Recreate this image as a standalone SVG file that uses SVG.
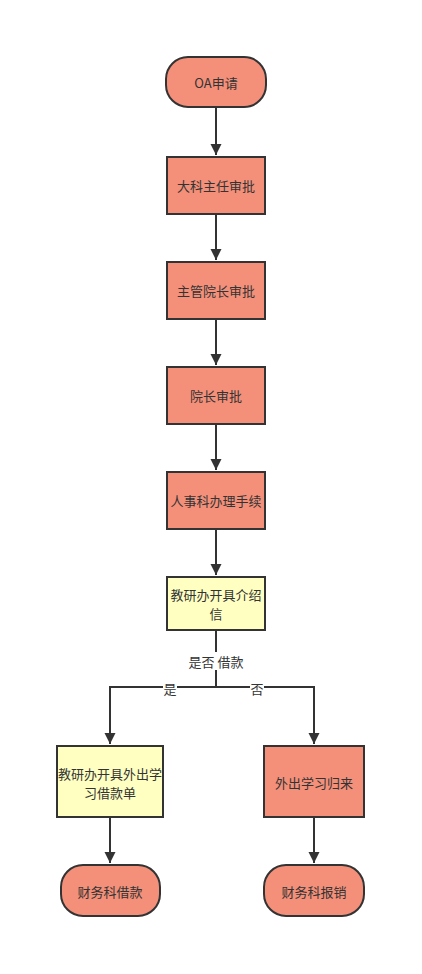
<svg xmlns="http://www.w3.org/2000/svg" width="422" height="974" viewBox="0 0 422 974">
<style>
.red{fill:#F4907A;stroke:#333;stroke-width:2}
.yel{fill:#FFFFC2;stroke:#333;stroke-width:2}
.t{font-family:"Noto Sans CJK SC","Liberation Sans",sans-serif;font-size:13px;fill:#333;text-anchor:middle;dominant-baseline:central}
.c{fill:none;stroke:#333;stroke-width:2}
.lb{fill:#fff}
</style>
<defs>
<marker id="a" viewBox="0 0 10 10" refX="10" refY="5" markerWidth="5.5" markerHeight="6" markerUnits="strokeWidth" orient="auto">
<path d="M0,0 L10,5 L0,10 z" fill="#333"/>
</marker>
</defs>
<rect width="422" height="974" fill="#fff"/>
<g id="connectors">
<path class="c" d="M216,107 V155" marker-end="url(#a)"/>
<path class="c" d="M216,214 V260" marker-end="url(#a)"/>
<path class="c" d="M216,319 V365" marker-end="url(#a)"/>
<path class="c" d="M216,424 V470" marker-end="url(#a)"/>
<path class="c" d="M216,529 V575" marker-end="url(#a)"/>
<path class="c" d="M216,630 V687 H110 V744" marker-end="url(#a)"/>
<path class="c" d="M216,687 H314 V744" marker-end="url(#a)"/>
<path class="c" d="M110,817 V863" marker-end="url(#a)"/>
<path class="c" d="M314,817 V863" marker-end="url(#a)"/>
<rect class="lb" x="188" y="652" width="56" height="18"/>
<text class="t" x="216" y="661">是否 借款</text>
<rect class="lb" x="163" y="680" width="14" height="14"/>
<text class="t" x="170" y="688">是</text>
<rect class="lb" x="250" y="680" width="14" height="14"/>
<text class="t" x="257" y="688">否</text>
</g>
<g id="n1"><rect class="red" x="166" y="57" width="100" height="50" rx="22"/><text class="t" x="216" y="82">OA申请</text></g>
<g id="n2"><rect class="red" x="167" y="157" width="98" height="57"/><text class="t" x="216" y="185">大科主任审批</text></g>
<g id="n3"><rect class="red" x="167" y="262" width="98" height="57"/><text class="t" x="216" y="290">主管院长审批</text></g>
<g id="n4"><rect class="red" x="167" y="367" width="98" height="57"/><text class="t" x="216" y="395">院长审批</text></g>
<g id="n5"><rect class="red" x="167" y="472" width="98" height="57"/><text class="t" x="216" y="500">人事科办理手续</text></g>
<g id="n6"><rect class="yel" x="167" y="577" width="98" height="53"/><text class="t" x="216" y="594">教研办开具介绍</text><text class="t" x="216" y="613">信</text></g>
<g id="n7"><rect class="yel" x="57" y="746" width="106" height="71"/><text class="t" x="110" y="773">教研办开具外出学</text><text class="t" x="110" y="792">习借款单</text></g>
<g id="n8"><rect class="red" x="264" y="746" width="100" height="71"/><text class="t" x="314" y="782">外出学习归来</text></g>
<g id="n9"><rect class="red" x="61" y="865" width="99" height="51" rx="22"/><text class="t" x="110" y="891">财务科借款</text></g>
<g id="n10"><rect class="red" x="264" y="865" width="100" height="51" rx="22"/><text class="t" x="314" y="891">财务科报销</text></g>
</svg>
